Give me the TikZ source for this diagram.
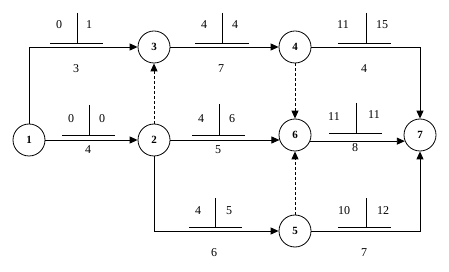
\documentclass[tikz,border=0pt]{standalone}
\usepackage{fontspec}
\setmainfont{Liberation Serif}
\usetikzlibrary{arrows.meta}
\begin{document}
\begin{tikzpicture}[x=1pt,y=-1pt,
  ev/.style={circle,draw,line width=0.8pt,minimum size=32pt,inner sep=0pt,font=\fontsize{11}{13}\selectfont\bfseries},
  act/.style={line width=0.9pt,-{Triangle[length=8pt,width=7pt]}},
  dummy/.style={act,dash pattern=on 3pt off 2pt},
  tbar/.style={line width=0.9pt},
  num/.style={inner sep=0pt,font=\fontsize{12}{14}\selectfont}]
\useasboundingbox (0,0) rectangle (449,272);
% events
\node[ev] (n1) at (29,140) {1};
\node[ev] (n2) at (154,140) {2};
\node[ev] (n3) at (154,47) {3};
\node[ev] (n4) at (295,47) {4};
\node[ev] (n5) at (295,231) {5};
\node[ev] (n6) at (295,135) {6};
\node[ev] (n7) at (420,135) {7};
% activities
\draw[act] (n1.north) |- (n3.west);
\draw[act] (n1.east) -- (n2.west);
\draw[dummy] (n2.north) -- (n3.south);
\draw[act] (n3.east) -- (n4.west);
\draw[act] (n2.east) -- (n2.east -| n6.198);
\draw[act] (n6.-22) -- (n6.-22 -| n7.202);
\draw[dummy] (n4.south) -- (n6.north);
\draw[dummy] (n5.north) -- (n6.south);
\draw[act] (n4.east) -| (n7.north);
\draw[act] (n2.south) |- (n5.west);
\draw[act] (n5.east) -| (n7.south);
% time marks 1-3
\draw[tbar] (50,43) -- (103,43) (77,13) -- (77,43);
\node[num] (a13) at (59,25) {0};
\node[num] (b13) at (89,25) {1};
\node[num] (d13) at (76,69) {3};
% 3-4
\draw[tbar] (195,43) -- (249,43) (222,13) -- (222,43);
\node[num] (a34) at (204,25) {4};
\node[num] (b34) at (235,25) {4};
\node[num] (d34) at (221,69) {7};
% 4-7
\draw[tbar] (338,43) -- (391,43) (366,13) -- (366,43);
\node[num] (a47) at (343,25) {11};
\node[num] (b47) at (382,25) {15};
\node[num] (d47) at (364,69) {4};
% 1-2
\draw[tbar] (62,135) -- (115,135) (89,105) -- (89,135);
\node[num] (a12) at (71,119) {0};
\node[num] (b12) at (102,119) {0};
\node[num] (d12) at (88,150) {4};
% 2-6
\draw[tbar] (192,135) -- (245,135) (219,104) -- (219,135);
\node[num] (a26) at (201,119) {4};
\node[num] (b26) at (232,119) {6};
\node[num] (d26) at (218,150) {5};
% 6-7
\draw[tbar] (329,133) -- (382,133) (356,103) -- (356,133);
\node[num] (a67) at (334,117) {11};
\node[num] (b67) at (374,115) {11};
\node[num] (d67) at (355,148) {8};
% 2-5
\draw[tbar] (189,227) -- (242,227) (215,198) -- (215,227);
\node[num] (a25) at (198,211) {4};
\node[num] (b25) at (229,211) {5};
\node[num] (d25) at (214,253) {6};
% 5-7
\draw[tbar] (338,227) -- (391,227) (366,198) -- (366,227);
\node[num] (a57) at (344,211) {10};
\node[num] (b57) at (383,211) {12};
\node[num] (d57) at (364,253) {7};
\end{tikzpicture}
\end{document}
